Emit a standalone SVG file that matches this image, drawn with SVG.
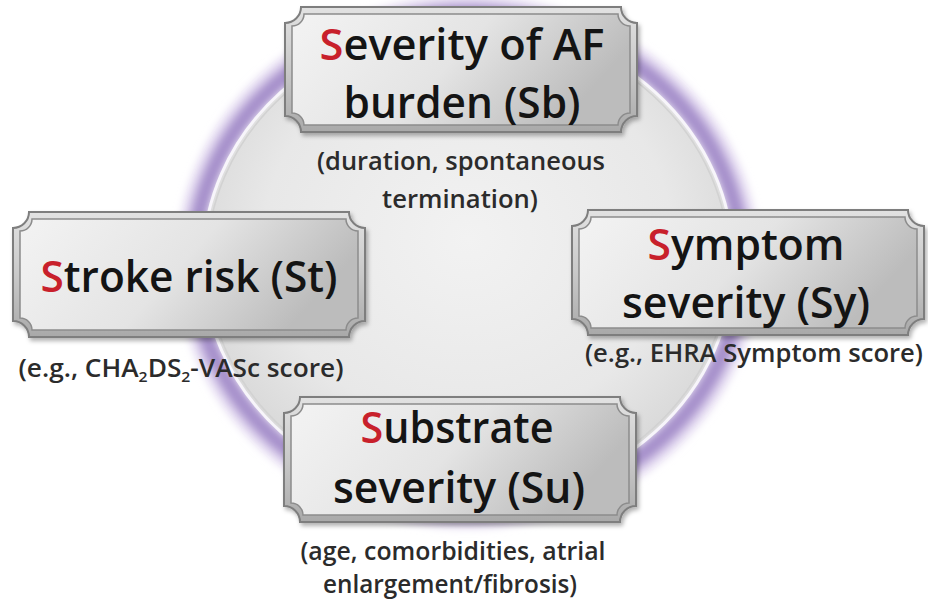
<svg xmlns="http://www.w3.org/2000/svg" xmlns:xlink="http://www.w3.org/1999/xlink" width="928" height="602" viewBox="0 0 928 602">
  <style>
    .title { font-family: "Open Sans", "Noto Sans", "Liberation Sans", sans-serif; font-weight: 600; font-size: 44px; fill: #141414; text-anchor: middle; }
    .sub { font-family: "Open Sans", "Noto Sans", "Liberation Sans", sans-serif; font-weight: 600; font-size: 25px; fill: #2b2b2b; text-anchor: middle; }
    .red { fill: #c8202b; }
    .frame { fill: url(#frameGrad); stroke: #7e7e7e; stroke-width: 2; }
    .panel { fill: url(#panelGrad); stroke: #8c8c8c; stroke-width: 1.5; }
  </style>
  <defs>
    <radialGradient id="discGrad" cx="0.5" cy="0.45" r="0.55">
      <stop offset="0" stop-color="#f2f2f2"/>
      <stop offset="0.7" stop-color="#e8e8e8"/>
      <stop offset="1" stop-color="#d8d8d8"/>
    </radialGradient>
    <linearGradient id="frameGrad" x1="0" y1="0" x2="0" y2="1">
      <stop offset="0" stop-color="#e2e2e2"/>
      <stop offset="0.5" stop-color="#c9c9c9"/>
      <stop offset="1" stop-color="#a9a9a9"/>
    </linearGradient>
    <linearGradient id="panelGrad" x1="0" y1="0" x2="1" y2="0.3">
      <stop offset="0" stop-color="#f3f3f3"/>
      <stop offset="0.55" stop-color="#e4e4e4"/>
      <stop offset="1" stop-color="#bcbcbc"/>
    </linearGradient>
    <filter id="glow" x="-20%" y="-20%" width="140%" height="140%">
      <feGaussianBlur stdDeviation="4"/>
    </filter>
    <filter id="shadow" x="-10%" y="-10%" width="120%" height="130%">
      <feDropShadow dx="2" dy="3" stdDeviation="2" flood-color="#000" flood-opacity="0.3"/>
    </filter>
    <g id="plaque">
      <path class="frame" d="M16,0 H336 A16,16 0 0 0 352,16 V109 A16,16 0 0 0 336,125 H16 A16,16 0 0 0 0,109 V16 A16,16 0 0 0 16,0 Z"/>
      <path class="panel" d="M19,7 H333 A12,12 0 0 0 345,19 V106 A12,12 0 0 0 333,118 H19 A12,12 0 0 0 7,106 V19 A12,12 0 0 0 19,7 Z"/>
    </g>
  </defs>

  <rect x="0" y="0" width="928" height="602" fill="#ffffff"/>

  <g id="disc">
    <ellipse cx="468" cy="262" rx="280" ry="255" fill="none" stroke="#e2d8f0" stroke-width="22" filter="url(#glow)"/>
    <ellipse cx="468" cy="262" rx="274" ry="249" fill="none" stroke="#a690cb" stroke-width="16" filter="url(#glow)"/>
    <ellipse cx="468" cy="262" rx="265" ry="240" fill="url(#discGrad)" stroke="#f7f5fa" stroke-width="3"/>
    <ellipse cx="468" cy="262" rx="261" ry="236" fill="none" stroke="#d2d2d2" stroke-width="1.5"/>
  </g>

  <g id="connectors"/>

  <g id="node-sb">
    <use xlink:href="#plaque" x="285" y="7" filter="url(#shadow)"/>
    <text class="title" x="462" y="60" textLength="285" lengthAdjust="spacingAndGlyphs"><tspan class="red">S</tspan>everity of AF</text>
    <text class="title" x="462" y="118" textLength="237" lengthAdjust="spacingAndGlyphs">burden (Sb)</text>
    <text class="sub" x="461" y="170" textLength="288" lengthAdjust="spacingAndGlyphs">(duration, spontaneous</text>
    <text class="sub" x="460" y="208" textLength="156" lengthAdjust="spacingAndGlyphs">termination)</text>
  </g>

  <g id="node-st">
    <use xlink:href="#plaque" x="13" y="212" filter="url(#shadow)"/>
    <text class="title" x="189" y="292" textLength="297" lengthAdjust="spacingAndGlyphs"><tspan class="red">S</tspan>troke risk (St)</text>
    <text class="sub" x="181" y="377" textLength="325" lengthAdjust="spacingAndGlyphs">(e.g., CHA<tspan dy="5" font-size="15">2</tspan><tspan dy="-5">DS</tspan><tspan dy="5" font-size="15">2</tspan><tspan dy="-5">-VASc score)</tspan></text>
  </g>

  <g id="node-sy">
    <use xlink:href="#plaque" x="572" y="210" filter="url(#shadow)"/>
    <text class="title" x="746" y="260" textLength="197" lengthAdjust="spacingAndGlyphs"><tspan class="red">S</tspan>ymptom</text>
    <text class="title" x="746" y="318" textLength="248" lengthAdjust="spacingAndGlyphs">severity (Sy)</text>
    <text class="sub" x="754" y="362" textLength="338" lengthAdjust="spacingAndGlyphs">(e.g., EHRA Symptom score)</text>
  </g>

  <g id="node-su">
    <use xlink:href="#plaque" x="284" y="397" filter="url(#shadow)"/>
    <text class="title" x="457" y="443" textLength="193" lengthAdjust="spacingAndGlyphs"><tspan class="red">S</tspan>ubstrate</text>
    <text class="title" x="459" y="503" textLength="252" lengthAdjust="spacingAndGlyphs">severity (Su)</text>
    <text class="sub" x="453" y="560" textLength="305" lengthAdjust="spacingAndGlyphs">(age, comorbidities, atrial</text>
    <text class="sub" x="450" y="593" textLength="254" lengthAdjust="spacingAndGlyphs">enlargement/fibrosis)</text>
  </g>
</svg>
